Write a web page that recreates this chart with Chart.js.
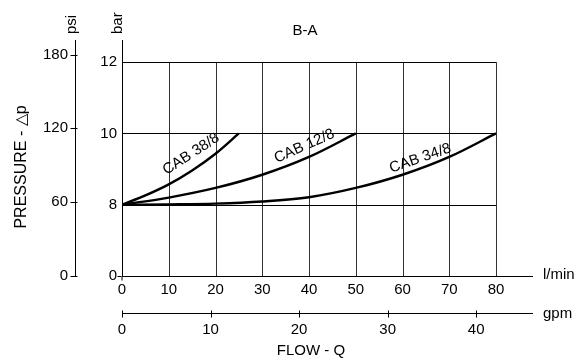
<!DOCTYPE html>
<html>
<head>
<meta charset="utf-8">
<script src="https://cdn.jsdelivr.net/npm/chart.js@4.4.1/dist/chart.umd.min.js"></script>
<style>
  body { margin: 0; background: #fff; }
  #wrap { width: 584px; height: 360px; position: relative; }
</style>
</head>
<body>
<div id="wrap"><canvas id="grafico"></canvas></div>
<script>
// dados (bar x l/min)
const cab38Flow = [0, 5, 10, 15, 20, 25];
const cab38Bar  = [8, 8.26, 8.57, 8.96, 9.43, 10];
const cab12Flow = [0, 10, 20, 30, 40, 50];
const cab12Bar  = [8, 8.2, 8.47, 8.84, 9.34, 10];
const cab34Flow = [0, 10, 20, 30, 40, 50, 60, 70, 80];
const cab34Bar  = [8, 8.01, 8.03, 8.09, 8.21, 8.47, 8.84, 9.34, 10];

const barTicks  = [0, 8, 10, 12];
const psiTicks  = [0, 60, 120, 180];
const lminTicks = [0, 10, 20, 30, 40, 50, 60, 70, 80];
const gpmTicks  = [0, 10, 20, 30, 40];

const curveNames = ['CAB 38/8', 'CAB 12/8', 'CAB 34/8'];

const FONT = 'Liberation Sans, Arial, sans-serif';

// eixo bar tem passos iguais entre 0, 8, 10, 12
function barPos(b) {
    for (let i = 1; i < barTicks.length; i++) {
        if (b <= barTicks[i]) {
            return (i - 1) + (b - barTicks[i - 1]) / (barTicks[i] - barTicks[i - 1]);
        }
    }
    return barTicks.length - 1;
}

function serie(flows, bars) {
    return flows.map((f, i) => ({ x: f, y: barPos(bars[i]) }));
}

// rótulos das curvas (posição em l/min e bar, ângulo em graus)
const curveLabels = [
    { text: curveNames[0], flow: 14.8, bar: 9.42, ang: -33 },
    { text: curveNames[1], flow: 39.0, bar: 9.64, ang: -24 },
    { text: curveNames[2], flow: 63.8, bar: 9.3, ang: -19 }
];

const desenhoExtra = {
    id: 'desenhoExtra',
    beforeDatasetsDraw(chart) {
        const { ctx, scales } = chart;
        const x = scales.x, y = scales.y;
        ctx.save();
        ctx.lineWidth = 1;
        // grade vertical
        ctx.strokeStyle = '#333';
        lminTicks.slice(1).forEach(v => {
            const px = Math.round(x.getPixelForValue(v)) + 0.5;
            ctx.beginPath();
            ctx.moveTo(px, y.getPixelForValue(3));
            ctx.lineTo(px, y.getPixelForValue(0));
            ctx.stroke();
        });
        // grade horizontal
        ctx.strokeStyle = '#000';
        [1, 2, 3].forEach(p => {
            const py = Math.round(y.getPixelForValue(p)) + 0.5;
            ctx.beginPath();
            ctx.moveTo(x.getPixelForValue(0), py);
            ctx.lineTo(x.getPixelForValue(80), py);
            ctx.stroke();
        });
        ctx.restore();
    },
    afterDraw(chart) {
        const { ctx, scales } = chart;
        const x = scales.x, y = scales.y, g = scales.gpm, p = scales.psi;
        ctx.save();
        ctx.strokeStyle = '#000';
        ctx.lineWidth = 1;
        // marcas cruzando os eixos psi e gpm
        psiTicks.forEach(v => {
            const py = Math.round(p.getPixelForValue(v)) + 0.5;
            const ax = Math.round(p.right) - 0.5;
            ctx.beginPath();
            ctx.moveTo(ax - 4, py);
            ctx.lineTo(ax + 3, py);
            ctx.stroke();
        });
        gpmTicks.forEach(v => {
            const px = Math.round(g.getPixelForValue(v)) + 0.5;
            const ay = Math.round(g.top) + 0.5;
            ctx.beginPath();
            ctx.moveTo(px, ay - 3);
            ctx.lineTo(px, ay + 4);
            ctx.stroke();
        });
        // marca na origem
        const ox = Math.round(x.getPixelForValue(0)) - 0.5;
        const oy = Math.round(y.getPixelForValue(0)) + 0.5;
        ctx.beginPath();
        ctx.moveTo(ox - 4, oy); ctx.lineTo(ox, oy);
        ctx.moveTo(ox + 0.5, oy); ctx.lineTo(ox + 0.5, oy + 4);
        ctx.stroke();

        ctx.fillStyle = '#000';
        ctx.font = '15px ' + FONT;
        ctx.textBaseline = 'middle';
        ctx.textAlign = 'center';
        ctx.fillText('B-A', 305, 31);
        ctx.fillText('FLOW - Q', 311, 351);
        ctx.textAlign = 'left';
        ctx.fillText('l/min', 543, 275);
        ctx.fillText('gpm', 543, 314);

        // textos verticais
        const vert = (txt, cx, cy, align) => {
            ctx.save();
            ctx.translate(cx, cy);
            ctx.rotate(-Math.PI / 2);
            ctx.textAlign = align;
            ctx.fillText(txt, 0, 0);
            ctx.restore();
        };
        vert('psi', 72, 34, 'left');
        vert('bar', 118, 34, 'left');
        ctx.font = '16px ' + FONT;
        vert('PRESSURE - \u25B3p', 22, 167, 'center');

        // rótulos das curvas
        ctx.font = '15px ' + FONT;
        curveLabels.forEach(l => {
            ctx.save();
            ctx.translate(x.getPixelForValue(l.flow), y.getPixelForValue(barPos(l.bar)));
            ctx.rotate(l.ang * Math.PI / 180);
            ctx.textAlign = 'center';
            ctx.fillText(l.text, 0, 0);
            ctx.restore();
        });
        ctx.restore();
    }
};

const tickFont = { family: FONT, size: 15 };

new Chart(document.getElementById('grafico'), {
    type: 'line',
    data: {
        datasets: [
            { label: curveNames[0], data: serie(cab38Flow, cab38Bar) },
            { label: curveNames[1], data: serie(cab12Flow, cab12Bar) },
            { label: curveNames[2], data: serie(cab34Flow, cab34Bar) }
        ].map(d => Object.assign(d, {
            xAxisID: 'x', yAxisID: 'y',
            borderColor: '#000', borderWidth: 2.4,
            pointRadius: 0, fill: false,
            cubicInterpolationMode: 'monotone'
        }))
    },
    options: {
        responsive: true,
        maintainAspectRatio: false,
        animation: false,
        layout: { padding: { top: 40, right: 52, left: 0, bottom: 0 } },
        plugins: { legend: { display: false }, tooltip: { enabled: false } },
        scales: {
            x: {
                type: 'linear', position: 'bottom', min: 0, max: 87.7,
                afterBuildTicks: s => { s.ticks = lminTicks.map(v => ({ value: v })); },
                afterFit: s => { s.height = 37; },
                grid: { display: false, drawTicks: false, tickLength: 0 },
                border: { display: true, color: '#000', width: 1 },
                ticks: { color: '#000', font: tickFont, padding: 5, maxRotation: 0, autoSkip: false }
            },
            gpm: {
                type: 'linear', position: 'bottom', axis: 'x', min: 0, max: 46.3,
                afterBuildTicks: s => { s.ticks = gpmTicks.map(v => ({ value: v })); },
                afterFit: s => { s.height = 47; },
                grid: { display: false, drawTicks: false, tickLength: 0 },
                border: { display: true, color: '#000', width: 1 },
                ticks: { color: '#000', font: tickFont, padding: 8, maxRotation: 0, autoSkip: false }
            },
            y: {
                type: 'linear', position: 'left', min: 0, max: 3.31,
                afterBuildTicks: s => { s.ticks = barTicks.map((v, i) => ({ value: i })); },
                afterFit: s => { s.width = 47; },
                grid: { display: false, drawTicks: false, tickLength: 0 },
                border: { display: true, color: '#000', width: 1 },
                ticks: { color: '#000', font: tickFont, padding: 5, callback: v => barTicks[v] }
            },
            psi: {
                type: 'linear', position: 'left', axis: 'y', weight: 1, min: 0, max: 191.8,
                afterBuildTicks: s => { s.ticks = psiTicks.map(v => ({ value: v })); },
                afterFit: s => { s.width = 75; },
                grid: { display: false, drawTicks: false, tickLength: 0 },
                border: { display: true, color: '#000', width: 1 },
                ticks: { color: '#000', font: tickFont, padding: 7 }
            }
        }
    },
    plugins: [desenhoExtra]
});
</script>
</body>
</html>
